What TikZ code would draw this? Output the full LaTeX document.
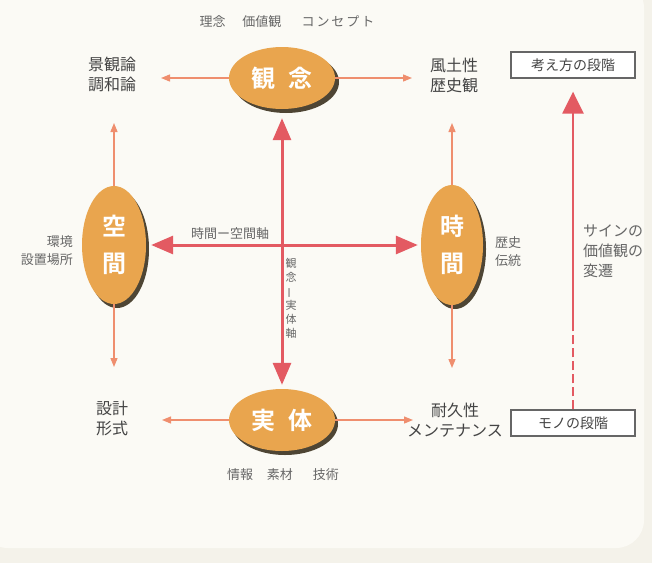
\documentclass[tikz,border=0pt]{standalone}
\usepackage{fontspec}
\newfontfamily\jp{Noto Sans CJK JP}[BoldFont={Noto Sans CJK JP Bold}]
\usetikzlibrary{arrows.meta,shapes.geometric}
\definecolor{bgc}{HTML}{F4F2EA}
\definecolor{panel}{HTML}{FBFAF5}
\definecolor{ellc}{HTML}{E9A54E}
\definecolor{shadc}{HTML}{4E4534}
\definecolor{thickc}{HTML}{E35A62}
\definecolor{thinc}{HTML}{EF8E6E}
\definecolor{txtc}{HTML}{444444}
\definecolor{smallc}{HTML}{666666}
\begin{document}
\begin{tikzpicture}[x=1pt,y=-1pt,
  oval/.style={ellipse, fill=ellc, inner sep=0pt, text=white, align=center,
    font=\jp\bfseries\fontsize{24}{37}\selectfont},
  ovalshadow/.style={ellipse, fill=shadc, inner sep=0pt},
  biglabel/.style={font=\jp\fontsize{16}{20}\selectfont, text=txtc, align=center, inner sep=0pt},
  smalllabel/.style={font=\jp\fontsize{13}{18}\selectfont, text=smallc, inner sep=0pt},
  stagebox/.style={draw=smallc, line width=1.3pt, fill=white, minimum width=124pt,
    minimum height=26pt, font=\jp\fontsize{14}{16}\selectfont, text=txtc, inner sep=0pt},
  thickboth/.style={draw=thickc, line width=3pt,
    {Triangle[length=22pt,width=18pt]}-{Triangle[length=22pt,width=18pt]}},
  sidearrow/.style={draw=thickc, line width=2.5pt, -{Triangle[length=22pt,width=21pt]}},
  sidedash/.style={draw=thickc, line width=2.5pt, dash pattern=on 9pt off 4pt},
  thinarrow/.style={draw=thinc, line width=1.3pt, -{Triangle[length=9pt,width=7pt]}},
]
\useasboundingbox (0,0) rectangle (652,563);
\fill[bgc] (0,0) rectangle (652,563);
\fill[panel, rounded corners=28pt] (-20,-20) rectangle (644,548);

% shadows
\node[ovalshadow, minimum width=106pt, minimum height=62pt] (gainensh) at (286,82) {};
\node[ovalshadow, minimum width=106pt, minimum height=62pt] (jittaish) at (285,424) {};
\node[ovalshadow, minimum width=64pt, minimum height=118pt] (kuukansh) at (117,249) {};
\node[ovalshadow, minimum width=62pt, minimum height=120pt] (jikansh) at (455,249) {};

% ellipses
\node[oval, minimum width=106pt, minimum height=62pt] (gainen) at (282,78) {観\hspace{13pt}念};
\node[oval, minimum width=106pt, minimum height=62pt] (jittai) at (282,420) {実\hspace{13pt}体};
\node[oval, minimum width=64pt, minimum height=118pt] (kuukan) at (114,245) {空\\間};
\node[oval, minimum width=62pt, minimum height=120pt] (jikan) at (452,245) {時\\間};

% labels
\node[biglabel] (keikan) at (112,74) {景観論\\調和論};
\node[biglabel] (fudo) at (454,75) {風土性\\歴史観};
\node[biglabel] (sekkei) at (112,418) {設計\\形式};
\node[biglabel] (taikyu) at (455,420) {耐久性\\メンテナンス};
\node[smalllabel] (toplbl) at (287,22) {理念\hspace{17pt}価値観\hspace{20pt}コ\hspace{2pt}ン\hspace{2pt}セ\hspace{2pt}プ\hspace{2pt}ト};
\node[smalllabel] (botlbl) at (283,475) {情報\hspace{14pt}素材\hspace{20pt}技術};
\node[smalllabel, align=right, anchor=east] (kankyo) at (73,251) {環境\\設置場所};
\node[smalllabel, align=left, anchor=west] (rekishi) at (495,252) {歴史\\伝統};
\node[smalllabel, font=\jp\fontsize{15}{20}\selectfont, align=left, anchor=west] (sain) at (583,251) {サインの\\価値観の\\変遷};
\node[smalllabel] (hjiku) at (230,234) {時間ー空間軸};
\node[smalllabel, font=\jp\fontsize{11}{14}\selectfont, align=center] (vjiku) at (291,298)
  {観\\念\\\rotatebox[origin=c]{90}{ー}\\実\\体\\軸};

% stage boxes
\node[stagebox] (kangae) at (573,65) {考え方の段階};
\node[stagebox] (mono) at (573,423) {モノの段階};

% free ends of thin arrows
\coordinate (gl) at (161,78);
\coordinate (gr) at (412,78);
\coordinate (jl) at (162,420);
\coordinate (jr) at (413,420);
\coordinate (ku) at (114,123);
\coordinate (kd) at (114,367);
\coordinate (ju) at (452,123);
\coordinate (jd) at (452,368);
\coordinate (dsh) at (573,330);

% thin arrows
\draw[thinarrow] (gainen.west) -- (gl);
\draw[thinarrow] (gainen.east) -- (gr);
\draw[thinarrow] (jittai.west) -- (jl);
\draw[thinarrow] (jittai.east) -- (jr);
\draw[thinarrow] (kuukan.north) -- (ku);
\draw[thinarrow] (kuukan.south) -- (kd);
\draw[thinarrow] (jikan.north) -- (ju);
\draw[thinarrow] (jikan.south) -- (jd);

% main axes
\draw[thickboth, shorten <=9pt, shorten >=4pt] (gainen) -- (jittai);
\draw[thickboth, shorten <=5pt, shorten >=3pt] (kuukan) -- (jikan);

% side arrow
\draw[sidedash] (mono.north) -- (dsh);
\draw[sidearrow, shorten >=13pt] (dsh) -- (kangae.south);
\end{tikzpicture}
\end{document}
